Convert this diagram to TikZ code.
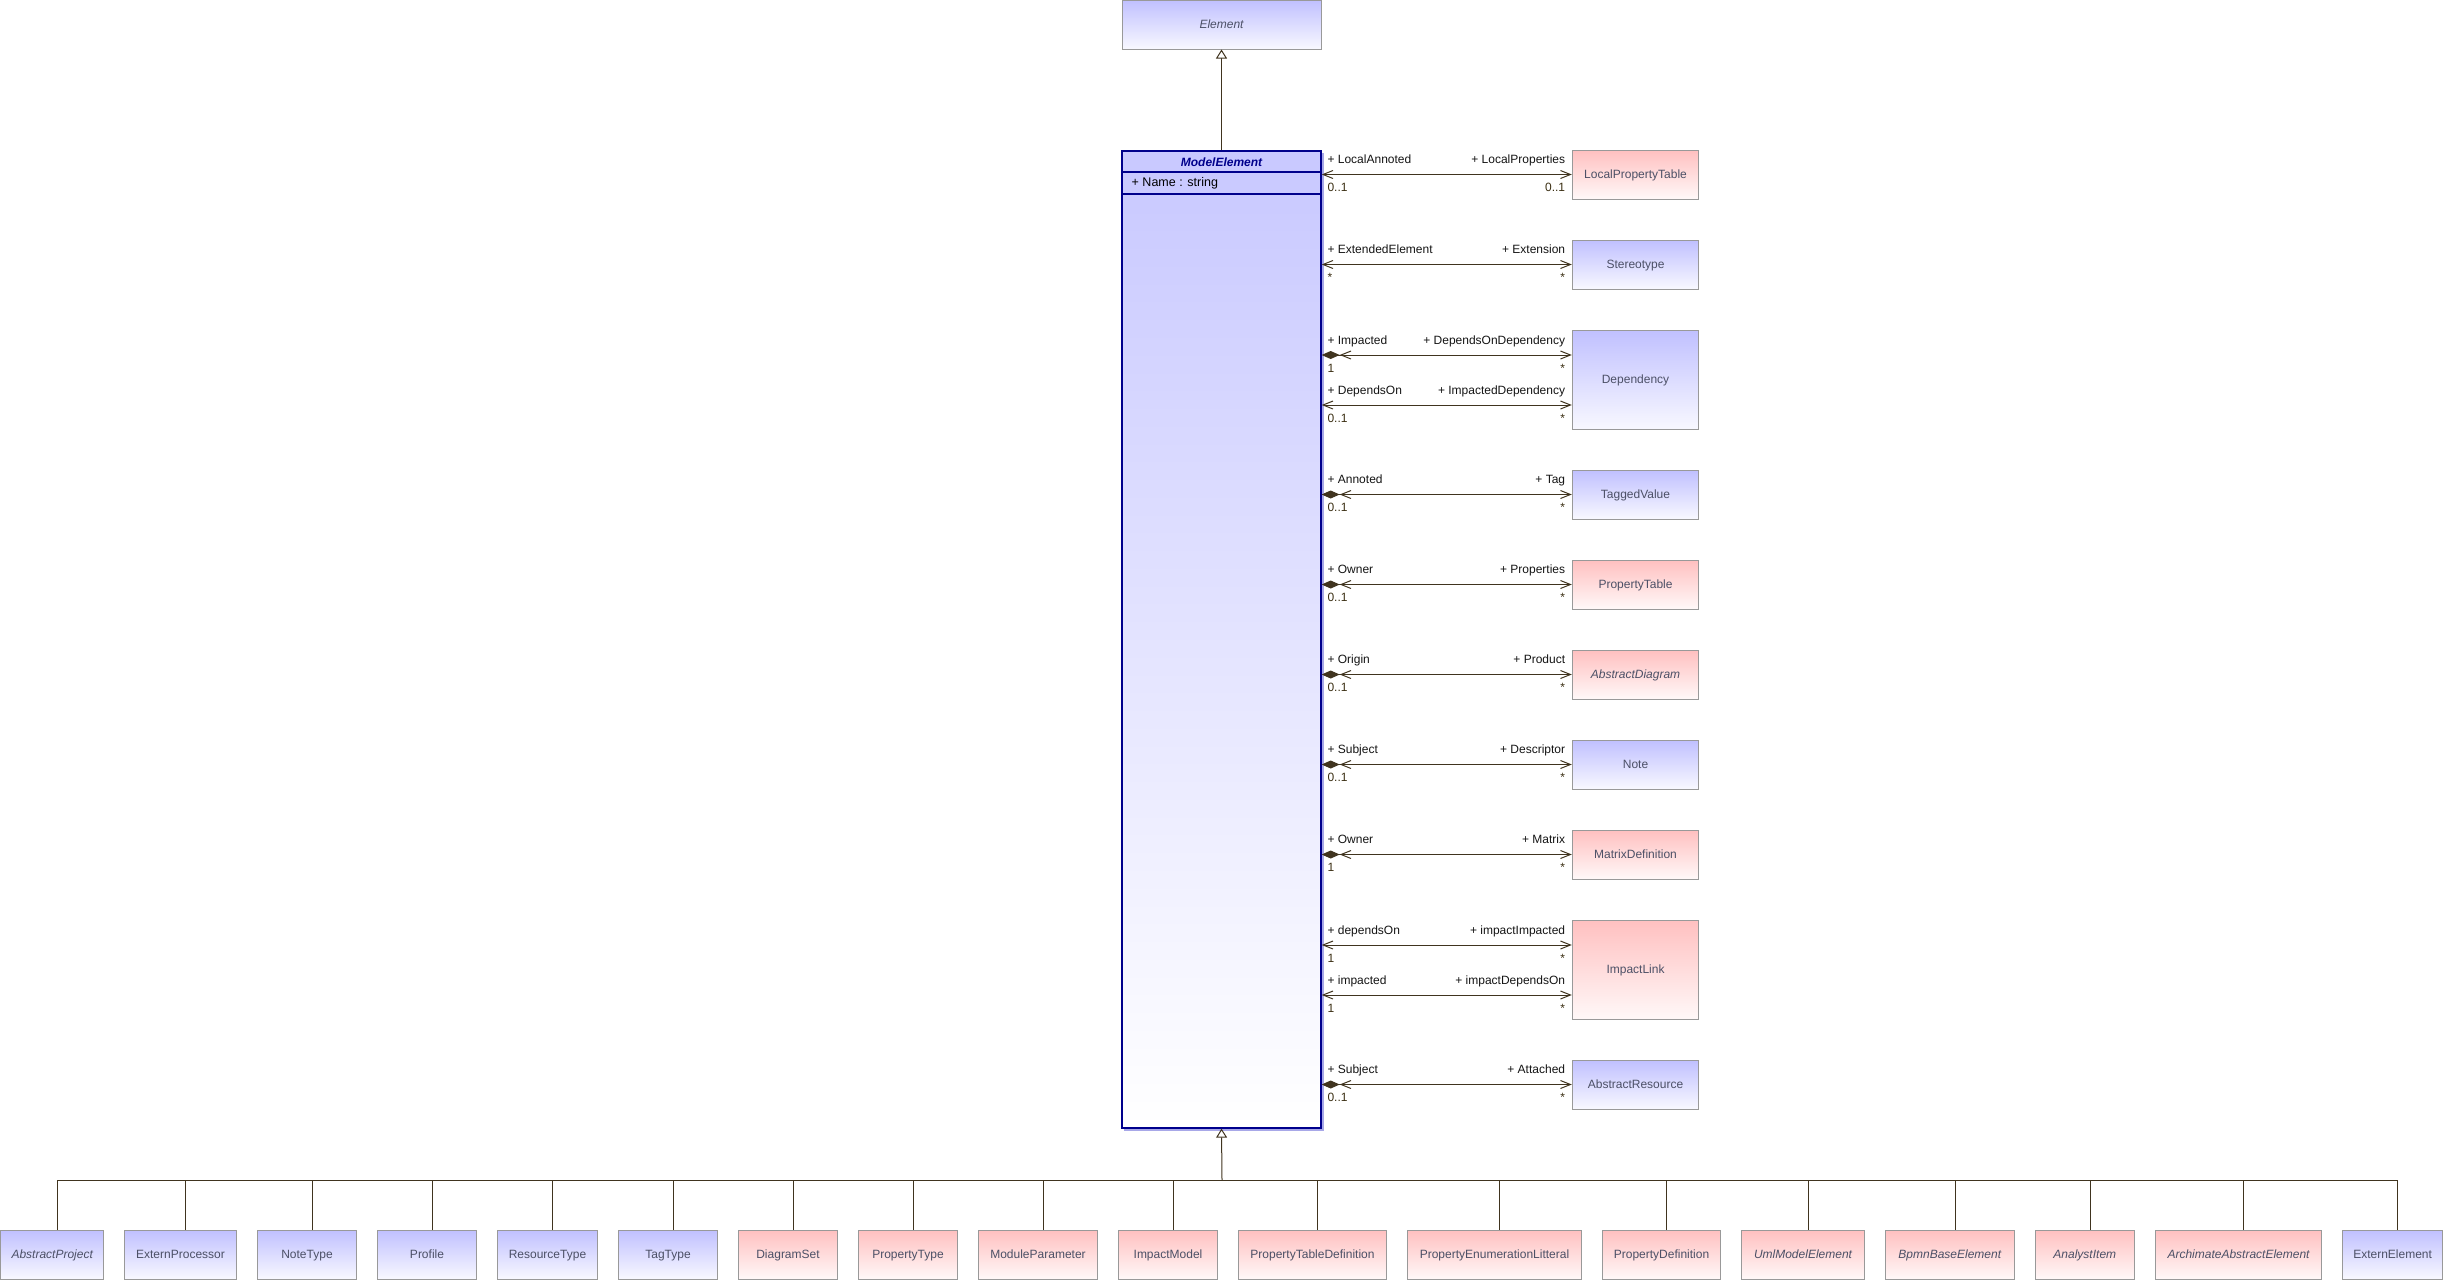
\documentclass[tikz,border=0pt]{standalone}
\usepackage{fontspec}
\setmainfont{Liberation Sans}
\usetikzlibrary{arrows.meta,calc}

\definecolor{boxline}{HTML}{999999}
\definecolor{boxtext}{HTML}{4C5066}
\definecolor{bluetop}{HTML}{C0C0FF}
\definecolor{bluebot}{HTML}{F8F8FF}
\definecolor{pinktop}{HTML}{FFC0C0}
\definecolor{pinkbot}{HTML}{FFF8F8}
\definecolor{navy}{HTML}{00008C}
\definecolor{metop}{HTML}{C8C8FF}
\definecolor{meshadow}{HTML}{A8A8E8}
\definecolor{link}{HTML}{40341F}
\definecolor{multc}{HTML}{3A2E12}

% association between ModelElement and a class on the right:
% style, right end, left role, left multiplicity, right role, right multiplicity
\newcommand\assoc[6]{%
  \draw[#1] (me.east |- #2) -- (#2);
  \node[role, anchor=base west] at ($(me.east |- #2)+(5.7,-11)$) {#3};
  \node[mult, anchor=base west] at ($(me.east |- #2)+(5.7,17.3)$) {#4};
  \node[role, anchor=base east] at ($(#2)+(-6.5,-11)$) {#5};
  \node[mult, anchor=base east] at ($(#2)+(-6.5,17.3)$) {#6};
}

\begin{document}
\begin{tikzpicture}[x=1pt,y=-1pt,
  cls/.style={draw=boxline, line width=1pt, inner sep=0pt,
    font=\fontsize{12}{14}\selectfont, text=boxtext, minimum height=49pt,
    text height=8pt, text depth=0pt},
  bluecls/.style={cls, top color=bluetop, bottom color=bluebot},
  pinkcls/.style={cls, top color=pinktop, bottom color=pinkbot},
  abs/.style={font=\fontsize{12}{14}\selectfont\itshape},
  role/.style={inner sep=0pt, font=\fontsize{12}{14}\selectfont, text=black!92},
  mult/.style={inner sep=0pt, font=\fontsize{12}{14}\selectfont, text=multc},
  link/.style={draw=link, line width=1pt},
  navi/.style={link, {Straight Barb[length=10pt,width=8pt]}-{Straight Barb[length=10pt,width=8pt]}},
  comp/.style={link, {Diamond[length=18pt,width=8pt] Straight Barb[length=10pt,width=8pt]}-{Straight Barb[length=10pt,width=8pt]}},
  gen/.style={link, -{Triangle[length=9pt,width=11pt,fill=white]}},
]
\useasboundingbox (0,0) rectangle (2444,1280);

% superclass and the central class
\node[bluecls, abs, minimum width=199pt] (el) at (1221.5,24.5) {Element};
\fill[meshadow] (1124,153) rectangle (1323.5,1130.5);
\node[draw=navy, line width=1.3pt, inner sep=0pt, minimum width=199pt,
      minimum height=977pt, top color=metop, bottom color=white]
      (me) at (1221.5,639.5) {};
\draw[navy, line width=1.1pt] (me.west |- 0,172) -- (me.east |- 0,172);
\draw[navy, line width=1.1pt] (me.west |- 0,194) -- (me.east |- 0,194);
\node[inner sep=0pt, text=navy, font=\fontsize{12}{14}\selectfont\bfseries\itshape]
      (metitle) at (1221.5,162) {ModelElement};
\node[inner sep=0pt, anchor=west, text=black, font=\fontsize{12.5}{14}\selectfont]
      (meattr) at (1131.5,183.5) {+ Name : string};

\draw[gen] (me.north) -- (el.south);

% associated classes
\node[pinkcls, minimum width=126.4pt] (lpt) at (1635.5,174.5) {LocalPropertyTable};
\node[bluecls, minimum width=126.4pt] (ste) at (1635.5,264.5) {Stereotype};
\node[bluecls, minimum width=126.4pt, minimum height=99pt] (dep) at (1635.5,379.5) {Dependency};
\node[bluecls, minimum width=126.4pt] (tag) at (1635.5,494.5) {TaggedValue};
\node[pinkcls, minimum width=126.4pt] (ptb) at (1635.5,584.5) {PropertyTable};
\node[pinkcls, abs, minimum width=126.4pt] (adg) at (1635.5,674.5) {AbstractDiagram};
\node[bluecls, minimum width=126.4pt] (note) at (1635.5,764.5) {Note};
\node[pinkcls, minimum width=126.4pt] (mtx) at (1635.5,854.5) {MatrixDefinition};
\node[pinkcls, minimum width=126.4pt, minimum height=99pt] (imp) at (1635.5,969.5) {ImpactLink};
\node[bluecls, minimum width=126.4pt] (ares) at (1635.5,1084.5) {AbstractResource};

\coordinate (dep1) at ([yshift=24.5pt]dep.west);
\coordinate (dep2) at ([yshift=-25.5pt]dep.west);
\coordinate (imp1) at ([yshift=24.5pt]imp.west);
\coordinate (imp2) at ([yshift=-25.5pt]imp.west);

\assoc{navi}{lpt.west}{+ LocalAnnoted}{0..1}{+ LocalProperties}{0..1}
\assoc{navi}{ste.west}{+ ExtendedElement}{*}{+ Extension}{*}
\assoc{comp}{dep1}{+ Impacted}{1}{+ DependsOnDependency}{*}
\assoc{navi}{dep2}{+ DependsOn}{0..1}{+ ImpactedDependency}{*}
\assoc{comp}{tag.west}{+ Annoted}{0..1}{+ Tag}{*}
\assoc{comp}{ptb.west}{+ Owner}{0..1}{+ Properties}{*}
\assoc{comp}{adg.west}{+ Origin}{0..1}{+ Product}{*}
\assoc{comp}{note.west}{+ Subject}{0..1}{+ Descriptor}{*}
\assoc{comp}{mtx.west}{+ Owner}{1}{+ Matrix}{*}
\assoc{navi}{imp1}{+ dependsOn}{1}{+ impactImpacted}{*}
\assoc{navi}{imp2}{+ impacted}{1}{+ impactDependsOn}{*}
\assoc{comp}{ares.west}{+ Subject}{0..1}{+ Attached}{*}

% subclasses
\node[bluecls, abs, minimum width=103pt] (c1) at (52.2,1254.5) {AbstractProject};
\node[bluecls, minimum width=112.4pt] (c2) at (180.5,1254.5) {ExternProcessor};
\node[bluecls, minimum width=99.4pt] (c3) at (307,1254.5) {NoteType};
\node[bluecls, minimum width=99.4pt] (c4) at (427,1254.5) {Profile};
\node[bluecls, minimum width=100.4pt] (c5) at (547.5,1254.5) {ResourceType};
\node[bluecls, minimum width=99.4pt] (c6) at (668,1254.5) {TagType};
\node[pinkcls, minimum width=99.4pt] (c7) at (788,1254.5) {DiagramSet};
\node[pinkcls, minimum width=99.4pt] (c8) at (908,1254.5) {PropertyType};
\node[pinkcls, minimum width=119.4pt] (c9) at (1038,1254.5) {ModuleParameter};
\node[pinkcls, minimum width=99.4pt] (c10) at (1168,1254.5) {ImpactModel};
\node[pinkcls, minimum width=148.4pt] (c11) at (1312.5,1254.5) {PropertyTableDefinition};
\node[pinkcls, minimum width=174.4pt] (c12) at (1494.5,1254.5) {PropertyEnumerationLitteral};
\node[pinkcls, minimum width=118.4pt] (c13) at (1661.5,1254.5) {PropertyDefinition};
\node[pinkcls, abs, minimum width=123.4pt] (c14) at (1803,1254.5) {UmlModelElement};
\node[pinkcls, abs, minimum width=129pt] (c15) at (1949.8,1254.5) {BpmnBaseElement};
\node[pinkcls, abs, minimum width=99pt] (c16) at (2084.8,1254.5) {AnalystItem};
\node[pinkcls, abs, minimum width=166.4pt] (c17) at (2238.5,1254.5) {ArchimateAbstractElement};
\node[bluecls, minimum width=100.4pt] (c18) at (2392.6,1254.5) {ExternElement};

% generalization tree
\coordinate (hub) at (1222,1180);
\draw[gen] (hub) -- (me.south);
\foreach \c in {c1,c2,c3,c4,c5,c6,c7,c8,c9,c10,c11,c12,c13,c14,c15,c16,c17,c18}
  \draw[link] ($(\c.north)+(5.2,0)$) |- (hub);
\end{tikzpicture}
\end{document}
